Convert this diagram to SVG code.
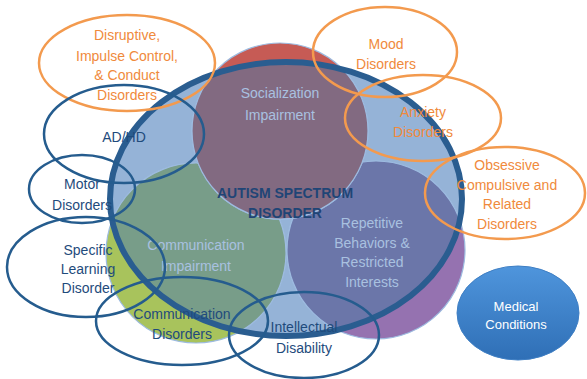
<svg xmlns="http://www.w3.org/2000/svg" width="587" height="379" viewBox="0 0 587 379">
<defs>
<clipPath id="asdClip"><ellipse cx="286" cy="199" rx="176" ry="137"/></clipPath>
<linearGradient id="medGrad" x1="0" y1="0" x2="0" y2="1">
<stop offset="0" stop-color="#4f95dc"/>
<stop offset="1" stop-color="#2f6fb6"/>
</linearGradient>
</defs>
<style>
text{font-family:"Liberation Sans",Arial,sans-serif;font-size:14px;text-anchor:middle}
.circ{stroke:#9dbbe0;stroke-width:1.2}
.lt{fill:#a9c1e0}
.or{fill:none;stroke:#f39a4e;stroke-width:2.5}
.bl{fill:none;stroke:#255c8e;stroke-width:2.5}
.ot{fill:#f08a3c}
.bt{fill:#1f4b7c}
.asdt{fill:#1f4576;font-weight:bold}
.wt{fill:#ffffff;font-size:13px}
</style>
<rect width="587" height="379" fill="#ffffff"/>
<g id="asd-background">
<ellipse cx="286" cy="199" rx="176" ry="137" fill="#95b3d7"/>
</g>
<g id="communication-impairment">
<circle cx="196" cy="253" r="90" fill="#a8c35c" class="circ"/>
<circle cx="196" cy="253" r="90" fill="#789d89" clip-path="url(#asdClip)" class="circ"/>
<text class="lt" x="196" y="250">Communication</text>
<text class="lt" x="196" y="271">Impairment</text>
</g>
<g id="repetitive-behaviors">
<circle cx="376" cy="250" r="89" fill="#9572b0" class="circ"/>
<circle cx="376" cy="250" r="89" fill="#6b76a9" clip-path="url(#asdClip)" class="circ"/>
<text class="lt" x="372" y="228">Repetitive</text>
<text class="lt" x="372" y="248">Behaviors &amp;</text>
<text class="lt" x="372" y="267">Restricted</text>
<text class="lt" x="372" y="287">Interests</text>
</g>
<g id="socialization-impairment">
<circle cx="280" cy="131" r="88" fill="#c65b55" class="circ"/>
<circle cx="280" cy="131" r="88" fill="#826a81" clip-path="url(#asdClip)" class="circ"/>
<text class="lt" x="280" y="98">Socialization</text>
<text class="lt" x="280" y="120">Impairment</text>
</g>
<g id="autism-spectrum-disorder">
<ellipse cx="286" cy="199" rx="176" ry="137" fill="none" stroke="#2a5d90" stroke-width="6"/>
<text class="asdt" x="285" y="198">AUTISM SPECTRUM</text>
<text class="asdt" x="285" y="218">DISORDER</text>
</g>
<g id="disruptive">
<ellipse class="or" cx="127" cy="63" rx="88" ry="48"/>
<text class="ot" x="127" y="40">Disruptive,</text>
<text class="ot" x="127" y="61">Impulse Control,</text>
<text class="ot" x="127" y="80">&amp; Conduct</text>
<text class="ot" x="127" y="100">Disorders</text>
</g>
<g id="mood">
<ellipse class="or" cx="385" cy="52" rx="72" ry="45"/>
<text class="ot" x="386" y="49">Mood</text>
<text class="ot" x="386" y="69">Disorders</text>
</g>
<g id="anxiety">
<ellipse class="or" cx="423" cy="118" rx="78" ry="43"/>
<text class="ot" x="423" y="117">Anxiety</text>
<text class="ot" x="423" y="137">Disorders</text>
</g>
<g id="ocd">
<ellipse class="or" cx="505" cy="193" rx="80" ry="46"/>
<text class="ot" x="507" y="170">Obsessive</text>
<text class="ot" x="507" y="190">Compulsive and</text>
<text class="ot" x="507" y="209">Related</text>
<text class="ot" x="507" y="229">Disorders</text>
</g>
<g id="adhd">
<ellipse class="bl" cx="124" cy="134" rx="80" ry="49"/>
<text class="bt" x="124" y="142">AD/HD</text>
</g>
<g id="motor">
<ellipse class="bl" cx="82" cy="189" rx="53" ry="34"/>
<text class="bt" x="82" y="189">Motor</text>
<text class="bt" x="82" y="210">Disorders</text>
</g>
<g id="specific-learning">
<ellipse class="bl" cx="86" cy="267" rx="79" ry="50"/>
<text class="bt" x="88" y="255">Specific</text>
<text class="bt" x="88" y="274">Learning</text>
<text class="bt" x="88" y="293">Disorder</text>
</g>
<g id="communication-disorders">
<ellipse class="bl" cx="182" cy="321" rx="86" ry="44"/>
<text class="bt" x="182" y="319">Communication</text>
<text class="bt" x="182" y="339">Disorders</text>
</g>
<g id="intellectual-disability">
<ellipse class="bl" cx="304" cy="335" rx="75" ry="43"/>
<text class="bt" x="304" y="332">Intellectual</text>
<text class="bt" x="304" y="353">Disability</text>
</g>
<g id="medical-conditions">
<ellipse cx="518" cy="313" rx="61" ry="47" fill="url(#medGrad)" stroke="#3f7fc4" stroke-width="1"/>
<text class="wt" x="516" y="311">Medical</text>
<text class="wt" x="516" y="329">Conditions</text>
</g>
<g id="connectors"/>
</svg>
